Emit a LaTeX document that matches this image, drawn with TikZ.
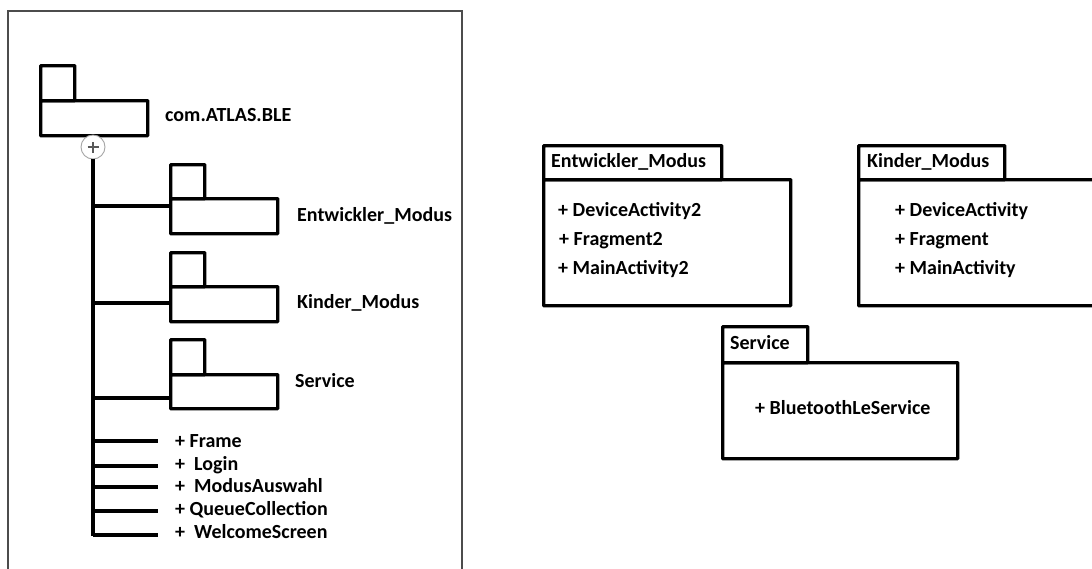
\documentclass[tikz,border=0pt]{standalone}
\usepackage{fontspec}
\setmainfont{Carlito}
\begin{document}
\begin{tikzpicture}[x=1pt,y=-1pt]
\tikzset{
 box/.style={draw, line width=3.4pt, inner sep=0pt, anchor=north west, rounded corners=0.6pt},
 lbl/.style={anchor=base west, inner sep=0pt, font=\fontsize{20}{24}\selectfont\bfseries},
 conn/.style={line width=3.4pt},
 frame/.style={draw=black!70, line width=1.2pt}
}
\clip (0,0) rectangle (1092,568);
\fill[white] (0,0) rectangle (1092,568);
% left frame
\draw[frame] (8,11) rectangle (462,590);

% top folder
\node[box, minimum width=34pt, minimum height=35pt] (topt) at (39,64) {};
\node[box, minimum width=107pt, minimum height=35pt] (topb) at (39,99) {};
\node[lbl] (toplbl) at (165,121) {com.ATLAS.BLE};
\node[circle, draw=black!35, line width=0.9pt, minimum size=24pt, inner sep=0pt, fill=white] (plus) at (93,147) {};
\draw[black!65, line width=2.6pt] ([xshift=-5.5pt]plus.center) -- ([xshift=5.5pt]plus.center);
\draw[black!65, line width=2.6pt] ([yshift=-5.5pt]plus.center) -- ([yshift=5.5pt]plus.center);
\coordinate (trunkend) at (93,536);
\draw[conn] (plus.south) -- (trunkend);

% sub folders
\node[box, minimum width=34pt, minimum height=34pt] (entt) at (169,163) {};
\node[box, minimum width=107pt, minimum height=35pt] (entb) at (169,197) {};
\node[lbl] (entlbl) at (297,221) {Entwickler\_Modus};
\node[box, minimum width=34pt, minimum height=34pt] (kint) at (169,251) {};
\node[box, minimum width=107pt, minimum height=35pt] (kinb) at (169,285) {};
\node[lbl] (kinlbl) at (297,308) {Kinder\_Modus};
\node[box, minimum width=34pt, minimum height=35pt] (sert) at (169,338) {};
\node[box, minimum width=107pt, minimum height=34pt] (serb) at (169,373) {};
\node[lbl] (serlbl) at (295,387) {Service};

\coordinate (br1) at (93,206);
\coordinate (br2) at (93,303);
\coordinate (br3) at (93,398);
\draw[conn] (br1) -- (br1 -| entb.west);
\draw[conn] (br2) -- (br2 -| kinb.west);
\draw[conn] (br3) -- (br3 -| serb.west);

% leaves
\foreach \n/\ly/\ty/\t in {1/441/447/{+ Frame},2/466/470/{+\ \ Login},3/487/492/{+\ \ ModusAuswahl},4/511/515/{+ QueueCollection},5/535/538/{+\ \ WelcomeScreen}}{
  \coordinate (l\n) at (93,\ly);
  \coordinate (e\n) at (158,\ly);
  \draw[conn] (l\n) -- (e\n);
  \node[lbl] (t\n) at (175,\ty) {\t};
}

% right: Entwickler_Modus package
\node[box, minimum width=178pt, minimum height=34pt] (pet) at (542,144) {};
\node[box, minimum width=247pt, minimum height=126pt] (peb) at (542,178) {};
\node[lbl] (petl) at (551,167) {Entwickler\_Modus};
\node[lbl] (pe1) at (558,216) {+ DeviceActivity2};
\node[lbl] (pe2) at (559,245) {+ Fragment2};
\node[lbl] (pe3) at (558,274) {+ MainActivity2};

% Kinder_Modus package
\node[box, minimum width=146pt, minimum height=34pt] (pkt) at (857,144) {};
\node[box, minimum width=260pt, minimum height=126pt] (pkb) at (857,178) {};
\node[lbl] (pktl) at (867,167) {Kinder\_Modus};
\node[lbl] (pk1) at (895,216) {+ DeviceActivity};
\node[lbl] (pk2) at (895,245) {+ Fragment};
\node[lbl] (pk3) at (895,274) {+ MainActivity};

% Service package
\node[box, minimum width=85pt, minimum height=36pt] (pst) at (721,325) {};
\node[box, minimum width=235pt, minimum height=96pt] (psb) at (721,361) {};
\node[lbl] (pstl) at (730,349) {Service};
\node[lbl] (ps1) at (755,414) {+ BluetoothLeService};
\end{tikzpicture}
\end{document}
